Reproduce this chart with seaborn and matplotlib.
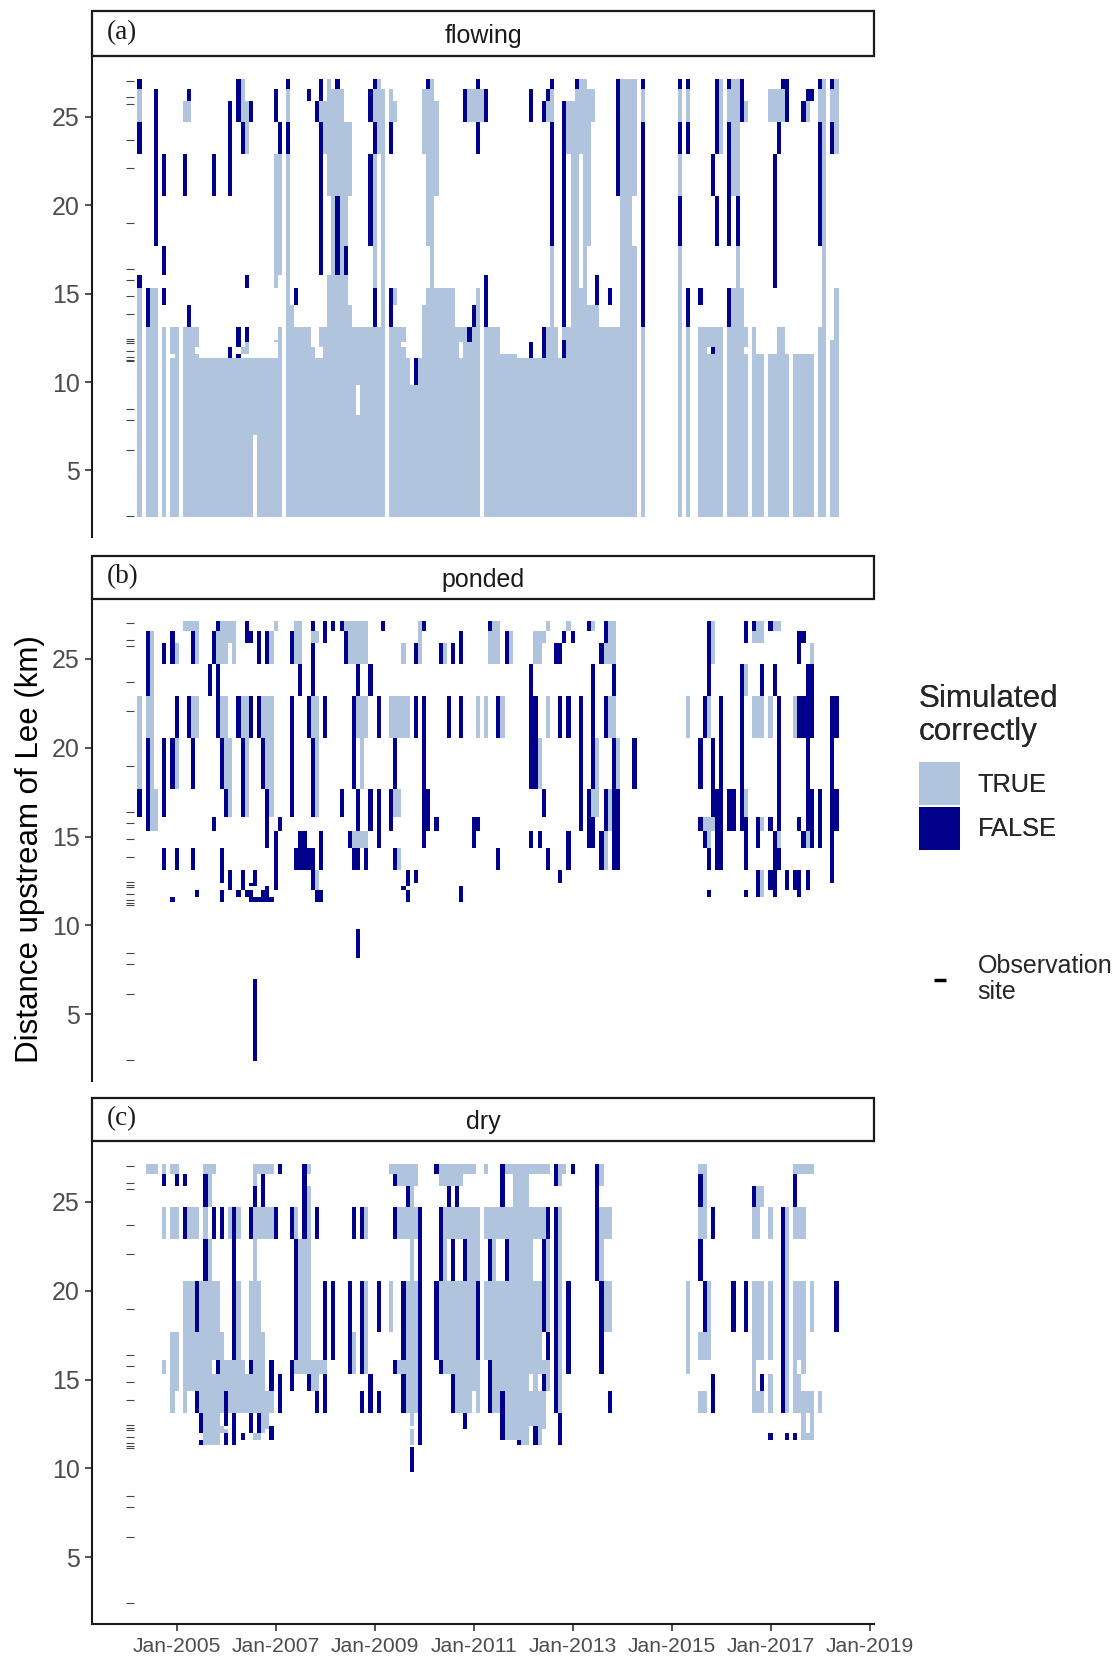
import matplotlib
matplotlib.use("Agg")
import matplotlib.pyplot as plt
import numpy as np
import pandas as pd
import seaborn as sns
from matplotlib.colors import ListedColormap, BoundaryNorm
from matplotlib.legend_handler import HandlerLine2D
from matplotlib.lines import Line2D
from matplotlib.patches import Patch, Rectangle

sns.set_theme(style="white")
plt.rcParams["font.family"] = ["Liberation Sans", "DejaVu Sans"]

W, H = 1118, 1657

# Observation sites, km upstream of Lee, top to bottom (row numbers are indices here)
sites = [27.04, 26.09, 25.72, 23.7, 22.09, 18.98, 16.38, 15.77, 14.88, 13.85, 12.42, 12.3,
         12.18, 11.76, 11.4, 11.26, 11.16, 8.45, 7.83, 6.14, 2.43]
# column k is the month k after the first one, at months-since-Jan-2005 = first_month
first_month = -9.08
n_months = 170

# month column -> rows simulated (ranges of site indices)
flowing_true = {
 0:"1-2 8-20",2:"10-20",3:"8-20",4:"8-20",6:"10-20",8:"10-13 15-20",9:"10-20",11:"2 10-20",12:"2 10-20",13:"10-20",
 14:"10-12 14-20",15:"15-20",16:"15-20",17:"15-20",18:"15-20",19:"15-20",20:"15-20",21:"15-20",22:"15-20",23:"15-20",
 24:"15-20",25:"0-2 13 15-20",26:"2-3 12-13 15-20",27:"15-20",28:"15-18",29:"15-20",30:"15-20",31:"15-20",32:"15-20",
 33:"4-7 11 15-20",34:"4-6 10-20",36:"1-2 4-20",37:"9-20",38:"10-20",39:"10-20",40:"10-20",41:"10-20",42:"13-20",
 43:"15-20",44:"2 10-12 15-20",45:"2-3 10-20",46:"0-4 7-20",47:"1-20",48:"1-4 7-20",49:"1-20",50:"3-5 7-20",
 51:"3-4 9-20",52:"10-20",53:"10-16 18-20",54:"10-20",55:"10-20",56:"10-20",57:"1-2 4-7 10-20",58:"0-3 10-20",59:"1-20",
 61:"1-2 10-20",62:"2 8 10-20",63:"10-20",64:"10-11 13-20",65:"15-20",66:"17-20",67:"17-20",68:"15-20",69:"1-3 9-20",
 70:"1-5 8-20",71:"0-20",72:"2-4 8-20",73:"8-20",74:"8-20",75:"8-20",76:"8-20",77:"10-20",78:"10-11 15-20",79:"10-20",
 80:"1-2 12-20",81:"1-2 10-20",82:"1-2 8-20",83:"1-2",84:"10-20",85:"10-20",86:"10-20",87:"10-20",88:"14-20",89:"14-20",
 90:"14-20",91:"14-20",92:"15-20",93:"15-20",94:"15-20",95:"15-20",96:"15-20",97:"15-20",98:"15-20",99:"2 10-20",
 100:"1-2 6-20",101:"10-20",102:"15-20",103:"10 15-20",104:"2-3 10-20",105:"2-20",106:"1-20",107:"0-3 8-20",108:"0-20",
 109:"1-5 9-20",110:"1-2 9-20",111:"9-20",112:"10-20",113:"10-20",114:"10-20",115:"10-20",116:"10-20",117:"0-20",
 118:"0-20",119:"0-20",120:"0-4 6-20",122:"1-2 10-20",131:"1-2 4 6-20",133:"1-2 10-20",136:"10-20",137:"10-20",
 138:"10-12 14-20",139:"10-12 14-20",140:"10-20",141:"0-3 10-20",143:"1-2 10-20",144:"0-4 8-20",145:"0-4 6-20",146:"8-20",
 147:"2 10-12 14-20",149:"10-20",150:"14-20",151:"14-20",153:"1-2 14-20",154:"1-2 14-20",155:"1-2 10-20",156:"1-2 10-20",
 157:"14-20",159:"14-20",160:"14-20",161:"14-20",162:"2 14-20",163:"14-20",165:"1-2 10-20",166:"0-20",168:"1-2 11-20",
 169:"0-3 8-20",
}
flowing_false = {
 0:"0 3 7",2:"8-9",4:"1-5",6:"4 6 8",11:"4",12:"1 9",18:"4",22:"2-4 13-14",24:"0-2 10-12 14",25:"3",26:"7 10-11",27:"2",
 33:"1-2",34:"3",36:"0 3",38:"8",41:"1",43:"2",44:"0-1 3-6",48:"0 5-6",50:"6",56:"1-2 4-5",57:"0 3 8-9",61:"3 8-9",
 67:"15-16",70:"0",79:"1-2",80:"10-11",81:"9",82:"0 3",84:"1-2 7-9",95:"1-2 12-14",98:"2 10-14",99:"1",100:"0 3-5",
 103:"2-9 11-14",106:"0",111:"7-8",114:"8",116:"0-4",122:"0 3-9",131:"0 3 5",133:"0 3 8-9",136:"8",139:"4 13",140:"0-3 5",
 143:"0 3-5 8-9",145:"5",146:"0-2",154:"4-7",155:"3",156:"0",157:"0-2",161:"2",162:"1",163:"1",165:"0 3-5",168:"0 3",
}
ponded_true = {
 0:"4-5",2:"4",3:"1-7",4:"6-7",9:"2 5",11:"0",12:"0",13:"0 4",14:"0-2 4",19:"1-2",20:"0-2 4",21:"0-2 4-5",22:"0-1 5-6",
 23:"0-2",25:"4",26:"4-6",30:"4",31:"4-5",32:"1-2 4-6",33:"0",38:"0-2",39:"0-2",42:"1 4",43:"1 4-6 10-12",50:"0",
 51:"0-2",52:"0-2 8",53:"0-2 4 8",54:"0-2 4-5 8",55:"0-2 4 8",61:"4",62:"4 6",63:"4 6 9",64:"2 4",65:"4",68:"0-2",
 74:"2",82:"4",84:"4",85:"1-2",86:"0-2",87:"0-2",88:"4",90:"1-2",96:"1-2",97:"1-2 5",98:"1",99:"0 4",104:"0",110:"0 6",
 111:"5-6",113:"2 8-9",114:"0-2 4 6-7",115:"0-2 4",116:"5",133:"4",137:"7",138:"4 7-8",139:"0-2 7",147:"3 6",149:"1 4",
 150:"0-1 4",151:"0-1 4 7 10-13",153:"4",154:"0",155:"0 8",159:"4",162:"4 8",163:"2",168:"5",
}
ponded_false = {
 0:"6",2:"1-3 5-7",6:"2 5-6 9",8:"1-2 5 14",9:"4 9",12:"4",13:"1-2 5 9",14:"13",17:"3",18:"1-2 7",19:"0 3-4",20:"5 9-10 13-14",
 21:"6",22:"10-12",24:"4 13",25:"5-6 10-12",26:"0-1 13",27:"1 4 11 13-14",28:"10-11 14 19-20",29:"1-2 4 14",30:"5 13-14",
 31:"1-2 6-8 12-14",32:"14",33:"8-11 12",34:"7",37:"1-2 4-6",38:"9",39:"3 8-9",40:"8-9",41:"4 9",42:"0 2-3 5-6 9-12",
 43:"13-14",44:"8-9 13-14",45:"0-1 4",47:"0",49:"0 6",50:"1-2",51:"8",52:"4-5 9",53:"3 6-7 9 17",55:"9",56:"3 6-7",
 58:"4 6-8",59:"0",61:"6-7",62:"5 9",64:"12",65:"10-11 13-14",67:"2 4 10",69:"0 4-8",70:"6-7",72:"7",73:"2",75:"4",
 76:"2",78:"1-2 4 12-14",81:"7-8",82:"7",85:"0",87:"4 9",89:"1-2",95:"3-5 8",96:"4-5",97:"8",98:"6",99:"9",101:"2",
 102:"2 4 10",103:"1",104:"4 8-9",105:"1",107:"4-7",109:"0 6-8",110:"3-5 7-8",112:"2 8-9",113:"0-1 4 6-7",115:"3 5-9",
 116:"6-9",120:"5",136:"5 7",137:"4 8",138:"0-3 9 13",139:"5-6",140:"6-9",141:"4-9",143:"6-7",144:"6-7",146:"3-7",
 147:"0-1 7-9 13",149:"0",150:"7-8 10-13",151:"3",153:"0 7 10-12",154:"3 8-10 11-13",155:"4-7 9",157:"10-12",159:"10-12",
 160:"1-2 4 7 10-13",161:"1 4 8",162:"3-7 10-12",163:"3-4 6-8",165:"6-8",168:"4-10",169:"4 6-7",
}
dry_true = {
 2:"0",3:"0",4:"0",6:"0 3 7",8:"0 3 6-9",9:"0 3 6-8",11:"5-9",12:"3 5-8",13:"3 5-8",14:"3 6-8",15:"5-9",16:"0 3 5-14",
 17:"0-2 4-14",18:"0 5-6 8-14",19:"5-6 8-14",20:"6-9 11-12",21:"7-8 12",22:"3 7-9",23:"7-9",24:"3 5-9",25:"7-9",26:"8-9",
 27:"5-6 8-9",28:"0-1 3-9 13",29:"0 3 5-9 13",30:"0 3 6-12",31:"0 3 9-11",32:"0 3 9",38:"3 7",39:"4-7",40:"4-7",
 41:"0 2-7",42:"7-8",43:"7-8",44:"7",45:"7",52:"6-7",55:"3 5-7",61:"0 5",62:"0",63:"0-1 3 7",64:"0-1 3 7",65:"0-1 3 5-9",
 66:"0-5 6-10 12-14",67:"0-1 3 5-9",73:"0-1 5-6",74:"0-1 3-7",75:"0-1 3 5-7",76:"0-1 3 5-7",77:"0-1 3 5-9",78:"0-1 3 5-9",
 79:"0 3 5-9",80:"0 3-9",81:"0 3-8",82:"3-4 7-9",84:"0 3 5-6",85:"3 5-6",86:"3-9",87:"3 5-9",88:"3 5-8",89:"0 3 5-13",
 90:"0 3-13",91:"0-13",92:"0-13",93:"0-14",94:"0-14",95:"0 3-7 9-10",96:"0 3 5-10",97:"0 3 5-7 9-14",98:"0 3 7 9-11",
 99:"0 3-5 7-8",102:"0-1 3-9",103:"0",112:"0-1 3-4",113:"3 5",114:"3 5",133:"5-7",136:"0 3 6 9",137:"0-3 6 9",138:"5-6",
 149:"3 5-9",150:"2-3 5-6 9",151:"2 5-6 9",153:"3 5-6 8-9",157:"3-9",159:"0 3 5-9",160:"0 3 5-6 8-9",161:"0 3 5-7 9-13",
 162:"0 9 13",163:"0 5 9-13",165:"9",
}
dry_false = {
 6:"1",9:"1",11:"1 3",14:"5 9",15:"10-12 14",16:"1-2 4",18:"3",19:"7",20:"3",21:"9-10 13-14",23:"3-6 10-14",25:"13",
 27:"3 7 10-12",28:"2",29:"10-12",30:"1-2",32:"7-8 11-13",33:"3",34:"0 8-9",37:"3 7-8",38:"4-6",40:"0-3",41:"8",43:"3 9",
 45:"5-6 8-9",47:"5-6",51:"5-7",52:"3",54:"3 5-7 9",56:"8-9",58:"5 9",62:"1 3 7",64:"5-6 8-9",65:"2",66:"16",68:"3-14",
 72:"0 5-6",73:"3-4 7",75:"2",76:"4 8-9",77:"2",79:"4 10-11",82:"5-6",85:"4 7-9",88:"0-2 9-13",89:"4",92:"14",96:"11-14",
 98:"4-5 8",99:"3 6",101:"0-1 3-9",102:"10-14",104:"5-7",105:"0",111:"0-4",112:"5-7",114:"9",136:"1-2 4",137:"5",139:"3 8-9",
 144:"5",147:"5",149:"2",151:"8",153:"13",156:"3-9",157:"13",159:"1-2 13",169:"5",
}

states = ["flowing", "ponded", "dry"]
tags = ["(a)", "(b)", "(c)"]
tables = {"flowing": (flowing_true, flowing_false),
          "ponded": (ponded_true, ponded_false),
          "dry": (dry_true, dry_false)}
y_limits = (1.24, 28.37)
x_limits = (-20.6, 169)
year_ticks = list(range(0, 169, 24))
year_labels = ["Jan-2005", "Jan-2007", "Jan-2009", "Jan-2011", "Jan-2013", "Jan-2015", "Jan-2017", "Jan-2019"]
panel_px = {"flowing": (57, 537, 11, 56), "ponded": (599, 1081, 556, 599), "dry": (1142, 1624, 1098, 1141)}
LEFT, RIGHT = 92, 874


def expand(spec):
    rows = []
    for part in spec.split():
        a, _, b = part.partition("-")
        rows.extend(range(int(a), int(b or a) + 1))
    return rows


records = []
for state in states:
    for flag, table in zip((1, 2), tables[state]):
        for col, spec in table.items():
            for r in expand(spec):
                records.append({"state": state, "month": col, "row": r, "code": flag})
df = pd.DataFrame(records)

site_arr = np.array(sites)
mid = (site_arr[:-1] + site_arr[1:]) / 2
y_edges = np.r_[site_arr[0] + 0.1, mid, site_arr[-1] - 0.06]
x_edges = first_month - 0.5 + np.arange(n_months + 1)
cmap = ListedColormap(["#ffffff", "#B0C4DE", "#00008B"])
norm = BoundaryNorm([-0.5, 0.5, 1.5, 2.5], 3)


def draw(data, **kws):
    ax = plt.gca()
    grid = np.zeros((len(sites), n_months))
    grid[data["row"].to_numpy(), data["month"].to_numpy()] = data["code"].to_numpy()
    ax.pcolormesh(x_edges, y_edges, grid, cmap=cmap, norm=norm, linewidth=0)


g = sns.FacetGrid(df, row="state", row_order=states, sharex=False, sharey=False, height=4, aspect=2)
g.map_dataframe(draw)
fig = g.figure
fig.set_size_inches(W / 100, H / 100)
fig.set_dpi(100)
fig.patch.set_facecolor("white")

for ax, state, tag in zip(g.axes.flat, states, tags):
    top, bottom, s_top, s_bottom = panel_px[state]
    ax.set_position([LEFT / W, 1 - bottom / H, (RIGHT - LEFT) / W, (bottom - top) / H])
    ax.set_xlim(*x_limits)
    ax.set_ylim(*y_limits)
    sns.scatterplot(x=[-11.5] * len(sites), y=sites, marker="_", s=36, color="#444444",
                    linewidth=0.8, ax=ax, legend=False, zorder=3)
    ax.set_xlabel("")
    ax.set_ylabel("")
    ax.set_title("")
    ax.set_yticks([5, 10, 15, 20, 25])
    ax.set_yticklabels(["5", "10", "15", "20", "25"])
    ax.tick_params(axis="y", length=5, width=1.2, color="#333333", labelcolor="#4D4D4D", labelsize=18, pad=4, left=True)
    for s in ("top", "right"):
        ax.spines[s].set_visible(False)
    for s in ("left", "bottom"):
        ax.spines[s].set_color("#1a1a1a")
        ax.spines[s].set_linewidth(1.5)
    if state == "dry":
        ax.set_xticks(year_ticks)
        ax.set_xticklabels(year_labels)
        ax.tick_params(axis="x", length=5, width=1.2, color="#333333", labelcolor="#4D4D4D", labelsize=15.2, pad=4.5, bottom=True)
    else:
        ax.set_xticks([])
        ax.spines["bottom"].set_visible(False)
    fig.add_artist(Rectangle((LEFT / W, 1 - s_bottom / H), (RIGHT - LEFT) / W, (s_bottom - s_top) / H,
                             transform=fig.transFigure, fc="white", ec="#1a1a1a", lw=1.6))
    fig.text((LEFT + RIGHT) / 2 / W, 1 - ((s_top + s_bottom) / 2 + 2) / H, state, ha="center", va="center",
             fontsize=18, color="#1a1a1a")
    fig.text(107 / W, 1 - ((s_top + s_bottom) / 2 - 1) / H, tag, ha="left", va="center",
             fontsize=19.5, family="Liberation Serif", color="#1a1a1a")

fig.text(30 / W, 1 - 849 / H, "Distance upstream of Lee (km)", rotation=90, ha="center", va="center",
         fontsize=22.5, color="black")

leg1 = fig.legend(handles=[Patch(fc="#B0C4DE", ec="none", label="TRUE"), Patch(fc="#00008B", ec="none", label="FALSE")],
                  title="Simulated\ncorrectly", loc="upper left", bbox_to_anchor=(919 / W, 1 - 684 / H),
                  frameon=False, fontsize=18.2, title_fontsize=22.6, handlelength=1.62, handleheight=2.2,
                  labelspacing=0.1, handletextpad=0.7, borderpad=0, borderaxespad=0)
leg1._legend_box.align = "left"
leg1._legend_box.sep = 11
leg1.get_title().set_linespacing(1.14)
fig.add_artist(leg1)
site_handle = Line2D([0], [0], color="black", marker="_", ls="none", ms=8, mew=2.5, label="Observation\nsite")
leg2 = fig.legend(handles=[site_handle], handler_map={site_handle: HandlerLine2D(ypad=0.5)},
                  loc="upper left", bbox_to_anchor=(920 / W, 1 - 954 / H), frameon=False, fontsize=18,
                  handlelength=1.6, handletextpad=0.7, borderpad=0, borderaxespad=0)
leg2.get_texts()[0].set_linespacing(1.1)

fig.savefig("out.png", dpi=100, facecolor="white")
